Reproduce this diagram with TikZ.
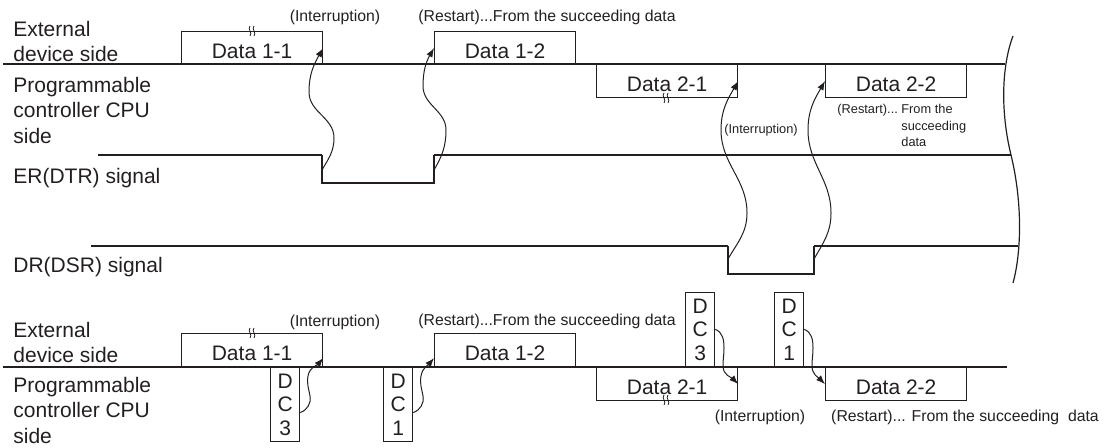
\documentclass[tikz,border=0pt]{standalone}
\usepackage{fontspec}
\setmainfont{Liberation Sans}
\usetikzlibrary{arrows.meta, positioning}
\definecolor{ink}{HTML}{231F20}

\begin{document}
\begin{tikzpicture}[x=0.5pt, y=-0.5pt, color=ink,
  bus/.style={line width=1.1pt},
  pulse/.style={line width=0.6pt},
  databox/.style={draw, line width=0.6pt, inner sep=0pt, anchor=north west, minimum width=70.5pt, text height=13.5pt, text depth=3pt, font=\fontsize{10.5}{13}\selectfont},
  dcbox/.style={draw, line width=0.6pt, inner sep=0pt, minimum width=14.5pt, minimum height=37pt, align=center, font=\fontsize{10.5}{11.75}\selectfont},
  sidelabel/.style={anchor=west, inner sep=0pt, align=left, font=\fontsize{10.5}{12.75}\selectfont},
  note/.style={inner sep=0pt, font=\fontsize{7.9}{9.5}\selectfont},
  tinynote/.style={inner sep=0pt, font=\fontsize{6.4}{8.25}\selectfont},
  flow/.style={line width=0.5pt, -{Latex[length=4.5pt,width=3.4pt]}}]
\useasboundingbox (0,0) rectangle (1107,448);
\pgfmathsetmacro{\yBus}{64}
\pgfmathsetmacro{\yER}{155}
\pgfmathsetmacro{\yDR}{246}
\pgfmathsetmacro{\yBusB}{367}

% Upper chart: ER/DR control
\node[sidelabel] (ext) at (13,41.5) {External\\device side};
\node[sidelabel] (cpu) at (13,110) {Programmable\\controller CPU\\side};
\node[sidelabel] (er) at (13,178) {ER(DTR) signal};
\node[sidelabel] (dr) at (13,267) {DR(DSR) signal};

\draw[bus] (3,\yBus) -- (1005,\yBus); % boundary line
\node[databox] (d11) at (181,31) {Data 1-1};
\node[databox] (d12) at (434,31) {Data 1-2};
\node[databox] (d21) at (596,\yBus) {Data 2-1};
\node[databox] (d22) at (825,\yBus) {Data 2-2};

\node[note] (int1) at (335,17) {(Interruption)};
\node[note] (res1) at (547,17) {(Restart)...From the succeeding data};
\node[tinynote] (int2) at (761,130) {(Interruption)};
\node[tinynote, anchor=base west] (res2) at (837,114) {\begin{tabular}[t]{@{}l@{\ }l@{}}(Restart)... & From the\\ & succeeding\\ & data\end{tabular}};

% ER and DR signal levels
\draw[bus] (98,\yER) -- (322,\yER);
\draw[pulse] (322,\yER) -- (322,183) -- (434,183) -- (434,\yER);
\draw[bus] (434,\yER) -- (1011,\yER);
\draw[bus] (91,\yDR) -- (728,\yDR);
\draw[pulse] (728,\yDR) -- (728,274) -- (814,274) -- (814,\yDR);
\draw[bus] (814,\yDR) -- (1018,\yDR);
\draw[line width=0.6pt] (1013,36) .. controls (1002,65) and (1000,110) .. (1011,155) .. controls (1022,200) and (1022,250) .. (1013,283); % cut-off line

\coordinate (e1) at (322,170);
\coordinate (e2) at (434,170);
\coordinate (e3) at (728,259);
\coordinate (e4) at (814,259);
\draw[flow] (e1) to[out=60,in=-90] (334,138) to[out=90,in=-90] (309,92) to[out=90,in=-120] (d11.east);
\draw[flow] (e2) to[out=60,in=-90] (446,130) to[out=90,in=-90] (423,86) to[out=90,in=-120] (d12.west);
\draw[flow] (e3) to[out=60,in=-90] (747,213) to[out=90,in=-90] (721,130) to[out=90,in=-120] (d21.east);
\draw[flow] (e4) to[out=60,in=-90] (831,213) to[out=90,in=-90] (808,130) to[out=90,in=-120] (d22.west);

% Lower chart: DC code control
\node[sidelabel] (extb) at (13,342.5) {External\\device side};
\node[sidelabel] (cpub) at (13,410) {Programmable\\controller CPU\\side};

\draw[bus] (3,\yBusB) -- (1007,\yBusB); % boundary line
\node[databox] (d11b) at (181,333) {Data 1-1};
\node[databox] (d12b) at (434,333) {Data 1-2};
\node[databox] (d21b) at (596,\yBusB) {Data 2-1};
\node[databox] (d22b) at (825,\yBusB) {Data 2-2};

\node[dcbox, anchor=north west] (dc3a) at (270,\yBusB) {D\\C\\3};
\node[dcbox, anchor=north west] (dc1a) at (383,\yBusB) {D\\C\\1};
\node[dcbox, anchor=south west] (dc3b) at (685,\yBusB) {D\\C\\3};
\node[dcbox, anchor=south west] (dc1b) at (774,\yBusB) {D\\C\\1};

\node[note] (int3) at (335,322) {(Interruption)};
\node[note] (res3) at (547,321) {(Restart)...From the succeeding data};
\node[note] (int4) at (760,417) {(Interruption)};
\node[note] (res4) at (965,417) {(Restart)... From the succeeding~~data};

\draw[flow] ([yshift=-4pt]dc3a.east) to[out=20,in=-80] (310,396) to[out=100,in=-100] (308,376) to[out=80,in=-130] ([yshift=-4pt]d11b.east);
\draw[flow] ([yshift=-4pt]dc1a.east) to[out=20,in=-80] (423,396) to[out=100,in=-100] (421,376) to[out=80,in=-130] ([yshift=-4pt]d12b.west);
\draw[flow] (dc3b.east) to[out=-20,in=90] (724,348) to[out=-90,in=90] (723,366) to[out=-90,in=135] (d21b.east);
\draw[flow] (dc1b.east) to[out=-20,in=90] (813,348) to[out=-90,in=90] (812,366) to[out=-90,in=135] (d22b.west);

% break marks on the data boxes
\foreach \bx/\by in {252/31, 666/98, 252/333, 666/400}{
  \foreach \dx in {-2,2}
    \draw[line width=0.4pt] (\bx+\dx,\by-5) .. controls (\bx+\dx-3,\by-2) and (\bx+\dx+3,\by+2) .. (\bx+\dx,\by+5);
}
\end{tikzpicture}
\end{document}
